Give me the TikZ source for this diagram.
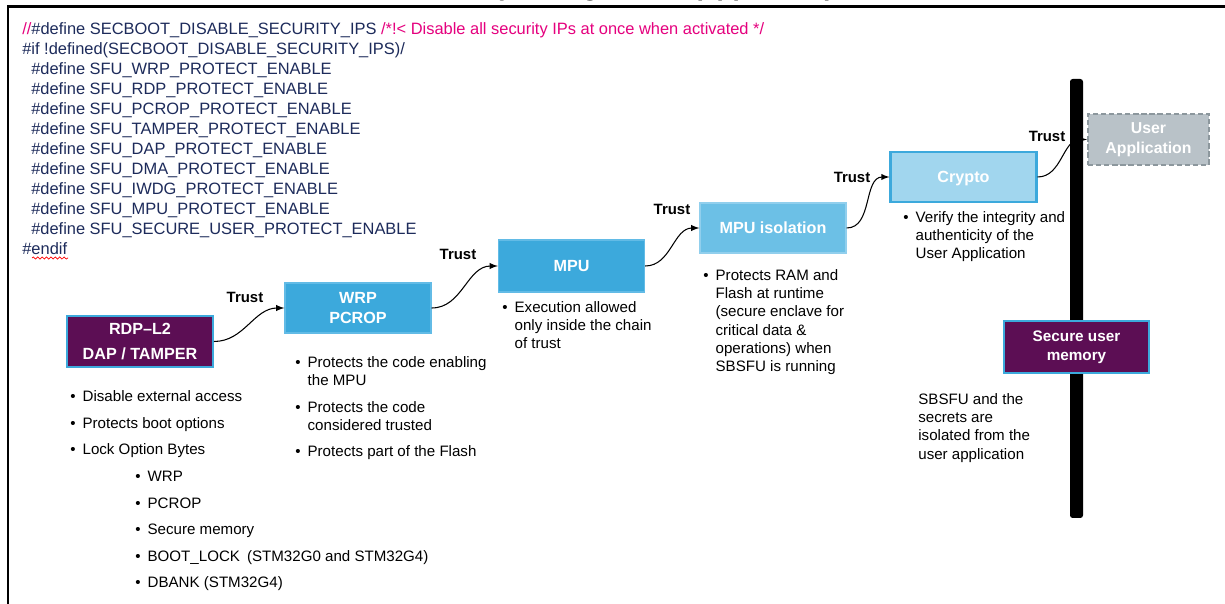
\documentclass[tikz,border=0pt]{standalone}
\usepackage{fontspec}
\setmainfont{Liberation Sans}
\usepackage{array}
\usetikzlibrary{decorations.pathmorphing}

\definecolor{stpurple}{RGB}{92,14,84}
\definecolor{stblue}{RGB}{60,169,220}
\definecolor{stedge}{RGB}{98,187,230}
\definecolor{stlight}{RGB}{108,192,230}
\definecolor{stpale}{RGB}{161,214,238}
\definecolor{stgrey}{RGB}{185,194,200}
\definecolor{stgreyline}{RGB}{140,151,157}
\definecolor{codeblue}{RGB}{29,43,91}
\definecolor{codepink}{RGB}{229,0,126}

\newcommand{\pts}[1]{\begin{tabular}[t]{@{}p{7pt}@{}l@{}}#1\end{tabular}}
\newcommand{\ind}{\hspace*{5.1pt}}

\begin{document}
\begin{tikzpicture}[x=0.02cm,y=-0.02cm,
  box/.style={draw=stedge,line width=0.8pt,text=white,align=center,inner sep=0pt,
    font=\fontsize{9.2}{11.3}\selectfont\bfseries,minimum width=2.92cm,minimum height=1cm},
  darkbox/.style={box,fill=stpurple,draw=stblue,line width=1.1pt},
  trust/.style={font=\fontsize{8.5}{10}\selectfont\bfseries,inner sep=0pt},
  notes/.style={anchor=base west,inner sep=0pt,font=\fontsize{8.6}{10.36}\selectfont},
  link/.style={-latex,line width=0.6pt}]
\useasboundingbox (0,0) rectangle (1225,604);
\fill[white] (0,0) rectangle (1225,604);

% title, cut by the top of the page
\node[anchor=base,inner sep=0pt,font=\fontsize{14.8}{17}\selectfont\bfseries] (title) at (622,-4.5) {Security configuration (app\_sfu.h)};
\draw[line width=1.7pt] (8,604) -- (8,6.5) -- (1225,6.5);

% app_sfu.h switches
\node[anchor=base west,inner sep=0pt,text=codeblue,font=\fontsize{9.35}{11.35}\selectfont] (code) at (22,35) {\begin{tabular}[t]{@{}l@{}}
\textcolor{codepink}{//}\#define SECBOOT\_DISABLE\_SECURITY\_IPS \textcolor{codepink}{/*!< Disable all security IPs at once when activated */}\\
\#if !defined(SECBOOT\_DISABLE\_SECURITY\_IPS)/\\
\ind\#define SFU\_WRP\_PROTECT\_ENABLE\\
\ind\#define SFU\_RDP\_PROTECT\_ENABLE\\
\ind\#define SFU\_PCROP\_PROTECT\_ENABLE\\
\ind\#define SFU\_TAMPER\_PROTECT\_ENABLE\\
\ind\#define SFU\_DAP\_PROTECT\_ENABLE\\
\ind\#define SFU\_DMA\_PROTECT\_ENABLE\\
\ind\#define SFU\_IWDG\_PROTECT\_ENABLE\\
\ind\#define SFU\_MPU\_PROTECT\_ENABLE\\
\ind\#define SFU\_SECURE\_USER\_PROTECT\_ENABLE\\
\#endif
\end{tabular}};
\draw[red,line width=0.4pt,decorate,decoration={snake,amplitude=0.6pt,segment length=2.5pt}] (32,258) -- (68,258);

% chain of trust
\node[darkbox,minimum height=1.02cm,font=\fontsize{9.2}{14.7}\selectfont\bfseries] (rdp) at (140,341.5) {RDP--L2\\DAP / TAMPER};
\node[box,fill=stblue] (wrp) at (358,308) {WRP\\PCROP};
\node[box,fill=stblue,minimum height=1.04cm] (mpu) at (571.5,266) {MPU};
\node[box,fill=stlight,draw=stedge!70] (iso) at (773,228) {MPU isolation};
\node[box,fill=stpale,draw=stblue,line width=1.2pt,text depth=0pt] (crypto) at (963.5,177) {Crypto};
\node[box,fill=stgrey,draw=stgreyline,line width=1.2pt,dash pattern=on 3pt off 1.6pt,minimum width=2.42cm,minimum height=1.02cm,font=\fontsize{9}{11.3}\selectfont\bfseries] (user) at (1148.5,139.5) {User\\Application};

\draw[link] (rdp.east) to[out=0,in=180] (wrp.west);
\draw[link] (wrp.east) to[out=0,in=180] (mpu.west);
\draw[link] (mpu.east) to[out=0,in=180] (iso.west);
\draw[link] (iso.east) to[out=0,in=180] (crypto.west);
\draw[link] (crypto.east) to[out=0,in=180] (user.west);

\node[trust] (t1) at (245,297) {Trust};
\node[trust] (t2) at (458,254) {Trust};
\node[trust] (t3) at (672,209) {Trust};
\node[trust] (t4) at (852,177) {Trust};
\node[trust] (t5) at (1047,136) {Trust};

% isolation barrier
\fill[rounded corners=1.5pt] (1070,79) rectangle (1083,518);
\node[darkbox,minimum width=2.9cm,minimum height=1.04cm,font=\fontsize{8.7}{10.8}\selectfont\bfseries] (secmem) at (1076.5,347) {Secure user\\memory};

% notes
\node[notes] (rdpnotes) at (70,401.5) {\pts{\textbullet & Disable external access\\[4.75pt]
\textbullet & Protects boot options\\[4.75pt]
\textbullet & Lock Option Bytes}};
\node[notes] (locknotes) at (135,481.5) {\pts{\textbullet & WRP\\[4.75pt]
\textbullet & PCROP\\[4.75pt]
\textbullet & Secure memory\\[4.75pt]
\textbullet & BOOT\_LOCK\hspace{4pt}(STM32G0 and STM32G4)\\[4.75pt]
\textbullet & DBANK (STM32G4)}};
\node[notes] (wrpnotes) at (295,367.5) {\pts{\textbullet & Protects the code enabling\\
 & the MPU\\[4.75pt]
\textbullet & Protects the code\\
 & considered trusted\\[4.75pt]
\textbullet & Protects part of the Flash}};
\node[notes] (mpunotes) at (502,312.5) {\pts{\textbullet & Execution allowed\\
 & only inside the chain\\
 & of trust}};
\node[notes] (isonotes) at (703,280.5) {\pts{\textbullet & Protects RAM and\\
 & Flash at runtime\\
 & (secure enclave for\\
 & critical data \&\\
 & operations) when\\
 & SBSFU is running}};
\node[notes] (cryptonotes) at (903,222.5) {\pts{\textbullet & Verify the integrity and\\
 & authenticity of the\\
 & User Application}};
\node[notes] (secnotes) at (918,404.5) {\begin{tabular}[t]{@{}l@{}}SBSFU and the\\
secrets are\\
isolated from the\\
user application\end{tabular}};
\end{tikzpicture}
\end{document}
